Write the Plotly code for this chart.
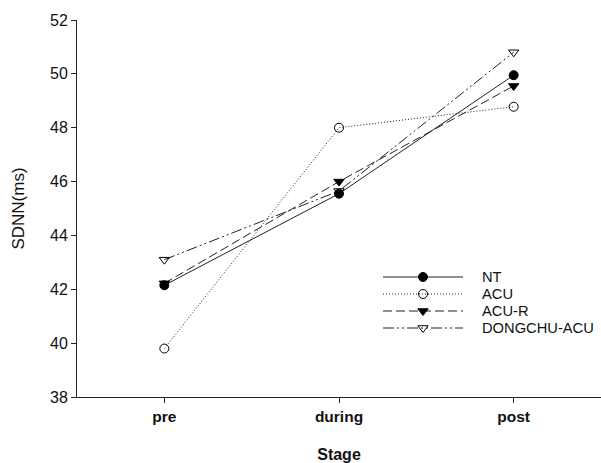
import plotly.graph_objects as go

stages = ["pre", "during", "post"]
series_names = ["NT", "ACU", "ACU-R", "DONGCHU-ACU"]
nt = [42.15, 45.55, 49.95]
acu = [39.8, 48.0, 48.78]
acu_r = [42.22, 46.0, 49.55]
dongchu = [43.1, 45.65, 50.8]
y_ticks = [38, 40, 42, 44, 46, 48, 50, 52]

W, H = 601, 463
ML, MR, MT, MB = 77, 0, 20, 66
FONT = "Liberation Sans, Arial"

styles = [
    dict(dash="solid", symbol="circle"),
    dict(dash="1px,2px", symbol="circle-open"),
    dict(dash="9px,4px", symbol="triangle-down"),
    dict(dash="11px,3px,2px,3px,2px,3px", symbol="triangle-down-open"),
]
values = [nt, acu, acu_r, dongchu]

fig = go.Figure()
xidx = list(range(len(stages)))
for name, vals, st in zip(series_names, values, styles):
    fig.add_trace(go.Scatter(
        x=xidx, y=vals, mode="lines+markers", name=name, showlegend=False,
        line=dict(color="#222", width=1, dash=st["dash"]),
        marker=dict(symbol=st["symbol"], size=9, color="black",
                    line=dict(color="black", width=1)),
    ))

# manual legend in pixel coordinates (x from left, y from bottom)
leg_x0, leg_x1, leg_text_x = 383, 463, 480
leg_rows = [277, 294, 311, 328]
for name, st, row in zip(series_names, styles, leg_rows):
    yy = H - row
    fig.add_trace(go.Scatter(
        x=[leg_x0, (leg_x0 + leg_x1) / 2, leg_x1], y=[yy, yy, yy],
        xaxis="x2", yaxis="y2", mode="lines", showlegend=False, hoverinfo="skip",
        line=dict(color="#222", width=1, dash=st["dash"]),
    ))
    fig.add_trace(go.Scatter(
        x=[(leg_x0 + leg_x1) / 2], y=[yy], xaxis="x2", yaxis="y2", mode="markers",
        showlegend=False, hoverinfo="skip",
        marker=dict(symbol=st["symbol"], size=9, color="black",
                    line=dict(color="black", width=1)),
    ))
    fig.add_annotation(x=leg_text_x, y=yy, xref="x2", yref="y2", text=name,
                       showarrow=False, xanchor="left", yanchor="middle",
                       font=dict(size=14.7, color="#111", family=FONT))

fig.update_layout(
    width=W, height=H,
    margin=dict(l=ML, r=MR, t=MT, b=MB, autoexpand=False),
    plot_bgcolor="white", paper_bgcolor="white",
    font=dict(family=FONT, color="#111", size=16),
    xaxis=dict(
        range=[-0.5, 2.5], tickmode="array", tickvals=xidx,
        ticktext=["<b>%s</b>" % s for s in stages],
        showline=True, linecolor="#222", linewidth=1, showgrid=False, zeroline=False,
        ticks="outside", ticklen=5, tickcolor="#222", automargin=False,
        tickfont=dict(size=15.5, family=FONT),
        title=dict(text="<b>Stage</b>", font=dict(size=16), standoff=27),
    ),
    yaxis=dict(
        range=[38, 52], tickvals=y_ticks,
        showline=True, linecolor="#222", linewidth=1, showgrid=False, zeroline=False,
        ticks="outside", ticklen=5, tickcolor="#222", automargin=False,
        tickfont=dict(size=16),
        title=dict(text="SDNN(ms)", font=dict(size=17), standoff=21),
    ),
    xaxis2=dict(range=[ML, W - MR], overlaying="x", visible=False, fixedrange=True),
    yaxis2=dict(range=[MB, H - MT], overlaying="y", visible=False, fixedrange=True),
)

fig.write_html("out.html", config={"displayModeBar": False},
               post_script="document.body.style.margin='0';document.body.style.overflow='hidden';")
